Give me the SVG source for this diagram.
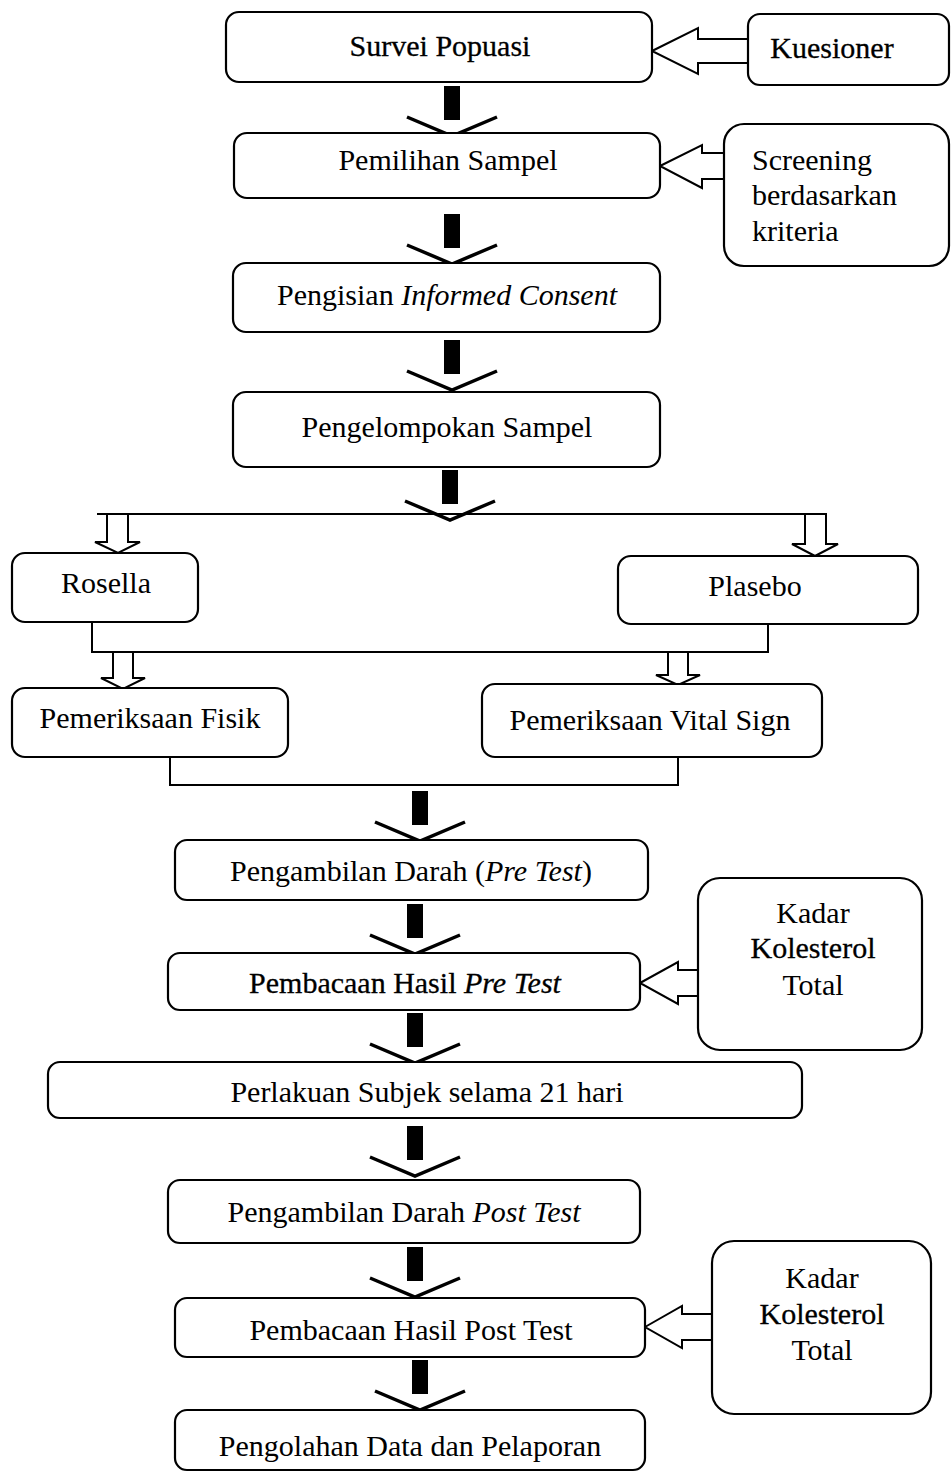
<svg xmlns="http://www.w3.org/2000/svg" xmlns:xlink="http://www.w3.org/1999/xlink" width="951" height="1472" viewBox="0 0 951 1472">
<style>
.box{fill:#fff;stroke:#000;stroke-width:2.2}
.t{font-family:"Liberation Serif","Times New Roman",serif;font-size:30px;fill:#000;text-anchor:middle}
.tb{stroke:#000;stroke-width:0.3}
.ln{fill:none;stroke:#000;stroke-width:2}
.hollow{fill:#fff;stroke:#000;stroke-width:2;stroke-linejoin:miter}
</style>
<defs>
<g id="down">
<rect x="-8" y="0" width="16" height="34" fill="#000"/>
<polyline points="-45,31 0,50 45,31" fill="none" stroke="#000" stroke-width="3.5"/>
</g>
<g id="left">
<polygon points="0,0 46,-23 46,-12 96,-12 96,12 46,12 46,23" class="hollow"/>
</g>
</defs>
<rect width="951" height="1472" fill="#fff"/>

<g id="connectors">
<use xlink:href="#down" x="452" y="86"/>
<use xlink:href="#down" x="452" y="214"/>
<use xlink:href="#down" x="452" y="340"/>
<use xlink:href="#down" x="450" y="470"/>
<polyline class="ln" points="97,514 826,514"/>
<polygon class="hollow" points="107,514 128,514 128,542 140,542 118,553 95,542 107,542"/>
<polygon class="hollow" points="805,514 826,514 826,544 838,544 815,556 792,544 805,544"/>
<polyline class="ln" points="92,622 92,652 768,652 768,624"/>
<polygon class="hollow" points="113,652 133,652 133,678 145,678 123,689 101,678 113,678"/>
<polygon class="hollow" points="668,652 688,652 688,675 700,675 678,685 656,675 668,675"/>
<polyline class="ln" points="170,757 170,785 678,785 678,757"/>
<use xlink:href="#down" x="420" y="791"/>
<use xlink:href="#down" x="415" y="904"/>
<use xlink:href="#down" x="415" y="1013"/>
<use xlink:href="#down" x="415" y="1126"/>
<use xlink:href="#down" x="415" y="1247"/>
<use xlink:href="#down" x="420" y="1360"/>
<use xlink:href="#left" x="652" y="51"/>
<polygon class="hollow" points="660,166 702,145 702,153 725,153 725,179 702,179 702,188"/>
<polygon class="hollow" points="640,983 678,962 678,970 698,970 698,996 678,996 678,1004"/>
<polygon class="hollow" points="645,1327 682,1306 682,1314 712,1314 712,1340 682,1340 682,1348"/>
</g>

<g id="n-survei"><rect class="box" x="226" y="12" width="426" height="70" rx="13"/><text class="t tb" x="440" y="56">Survei Popuasi</text></g>
<g id="n-kuesioner"><rect class="box" x="748" y="14" width="201" height="71" rx="12"/><text class="t tb" x="832" y="58">Kuesioner</text></g>
<g id="n-pemilihan"><rect class="box" x="234" y="133" width="426" height="65" rx="13"/><text class="t" x="448" y="170">Pemilihan Sampel</text></g>
<g id="n-screening"><rect class="box" x="724" y="124" width="225" height="142" rx="20"/><text class="t" x="752" y="170" style="text-anchor:start">Screening</text><text class="t" x="752" y="205" style="text-anchor:start">berdasarkan</text><text class="t" x="752" y="241" style="text-anchor:start">kriteria</text></g>
<g id="n-consent"><rect class="box" x="233" y="263" width="427" height="69" rx="13"/><text class="t" x="447" y="305">Pengisian <tspan font-style="italic">Informed Consent</tspan></text></g>
<g id="n-pengelompokan"><rect class="box" x="233" y="392" width="427" height="75" rx="13"/><text class="t" x="447" y="437">Pengelompokan Sampel</text></g>
<g id="n-rosella"><rect class="box" x="12" y="553" width="186" height="69" rx="13"/><text class="t" x="106" y="593">Rosella</text></g>
<g id="n-plasebo"><rect class="box" x="618" y="556" width="300" height="68" rx="13"/><text class="t" x="755" y="596">Plasebo</text></g>
<g id="n-fisik"><rect class="box" x="12" y="688" width="276" height="69" rx="13"/><text class="t" x="150" y="728">Pemeriksaan Fisik</text></g>
<g id="n-vital"><rect class="box" x="482" y="684" width="340" height="73" rx="13"/><text class="t" x="650" y="730">Pemeriksaan Vital Sign</text></g>
<g id="n-pre"><rect class="box" x="175" y="840" width="473" height="60" rx="12"/><text class="t" x="411" y="881">Pengambilan Darah (<tspan font-style="italic">Pre Test</tspan>)</text></g>
<g id="n-bacapre"><rect class="box" x="168" y="953" width="472" height="57" rx="12"/><text class="t tb" x="405" y="993">Pembacaan Hasil <tspan font-style="italic">Pre Test</tspan></text></g>
<g id="n-kadar1"><rect class="box" x="698" y="878" width="224" height="172" rx="22"/><text class="t" x="813" y="923">Kadar</text><text class="t tb" x="813" y="958">Kolesterol</text><text class="t" x="813" y="995">Total</text></g>
<g id="n-perlakuan"><rect class="box" x="48" y="1062" width="754" height="56" rx="12"/><text class="t" x="427" y="1102">Perlakuan Subjek selama 21 hari</text></g>
<g id="n-post"><rect class="box" x="168" y="1180" width="472" height="63" rx="12"/><text class="t" x="404" y="1222">Pengambilan Darah <tspan font-style="italic">Post Test</tspan></text></g>
<g id="n-bacapost"><rect class="box" x="175" y="1298" width="470" height="59" rx="12"/><text class="t" x="411" y="1340">Pembacaan Hasil Post Test</text></g>
<g id="n-kadar2"><rect class="box" x="712" y="1241" width="219" height="173" rx="22"/><text class="t" x="822" y="1288">Kadar</text><text class="t tb" x="822" y="1324">Kolesterol</text><text class="t" x="822" y="1360">Total</text></g>
<g id="n-olah"><rect class="box" x="175" y="1410" width="470" height="60" rx="12"/><text class="t" x="410" y="1456">Pengolahan Data dan Pelaporan</text></g>
</svg>
